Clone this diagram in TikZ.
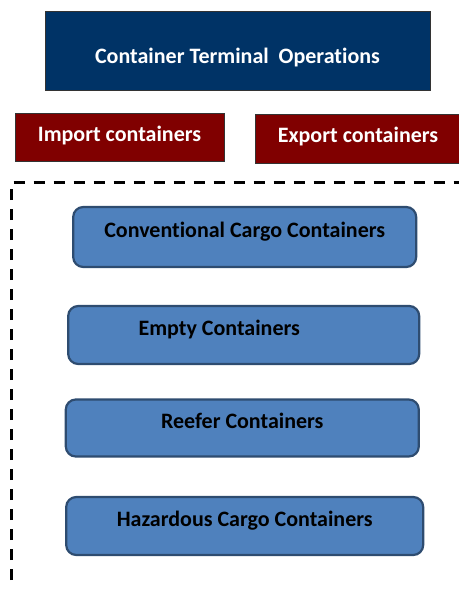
\documentclass[tikz,border=0pt]{standalone}
\usepackage{fontspec}
\setmainfont{Carlito}[Ligatures=NoCommon]
\definecolor{navy}{HTML}{003366}
\definecolor{maroon}{HTML}{800000}
\definecolor{steel}{HTML}{4F81BD}
\definecolor{steelline}{HTML}{2E4C70}

\begin{document}
\begin{tikzpicture}[x=1pt,y=-1pt,font=\fontsize{22}{26}\selectfont\bfseries,
  headbox/.style={draw=black!80,fill=navy,text=white,line width=0.8pt,text height=24pt,text depth=0pt},
  flowbox/.style={draw=black!80,fill=maroon,text=white,line width=0.8pt,text height=14pt,text depth=6pt},
  typebox/.style={draw=steelline,fill=steel,line width=2.2pt,rounded corners=10pt,text height=8pt,text depth=8pt},
  groupline/.style={line width=3pt,dash pattern=on 11pt off 9pt}]
  \useasboundingbox (0,0) rectangle (458,589);
  % heading and flow direction
  \node[headbox,minimum width=385pt,minimum height=79pt] (ttl) at (237.5,51) {Container Terminal\ \ Operations};
  \node[flowbox,minimum width=209pt,minimum height=48pt] (imp) at (119.5,137.5) {Import containers};
  \node[flowbox,minimum width=206pt,minimum height=49pt] (exp) at (358,138.8) {Export containers};
  % container types
  \draw[groupline] (11.5,600) |- (470,182);
  \node[typebox,minimum width=343pt,minimum height=60pt] (conv) at (244.7,237) {Conventional Cargo Containers};
  \node[typebox,minimum width=351pt,minimum height=58pt] (empty) at (243.7,335) {Empty Containers\hspace*{49pt}};
  \node[typebox,minimum width=353pt,minimum height=57pt] (reefer) at (242.3,428) {Reefer Containers};
  \node[typebox,minimum width=357pt,minimum height=58pt] (haz) at (244.7,526) {Hazardous Cargo Containers};
\end{tikzpicture}
\end{document}
